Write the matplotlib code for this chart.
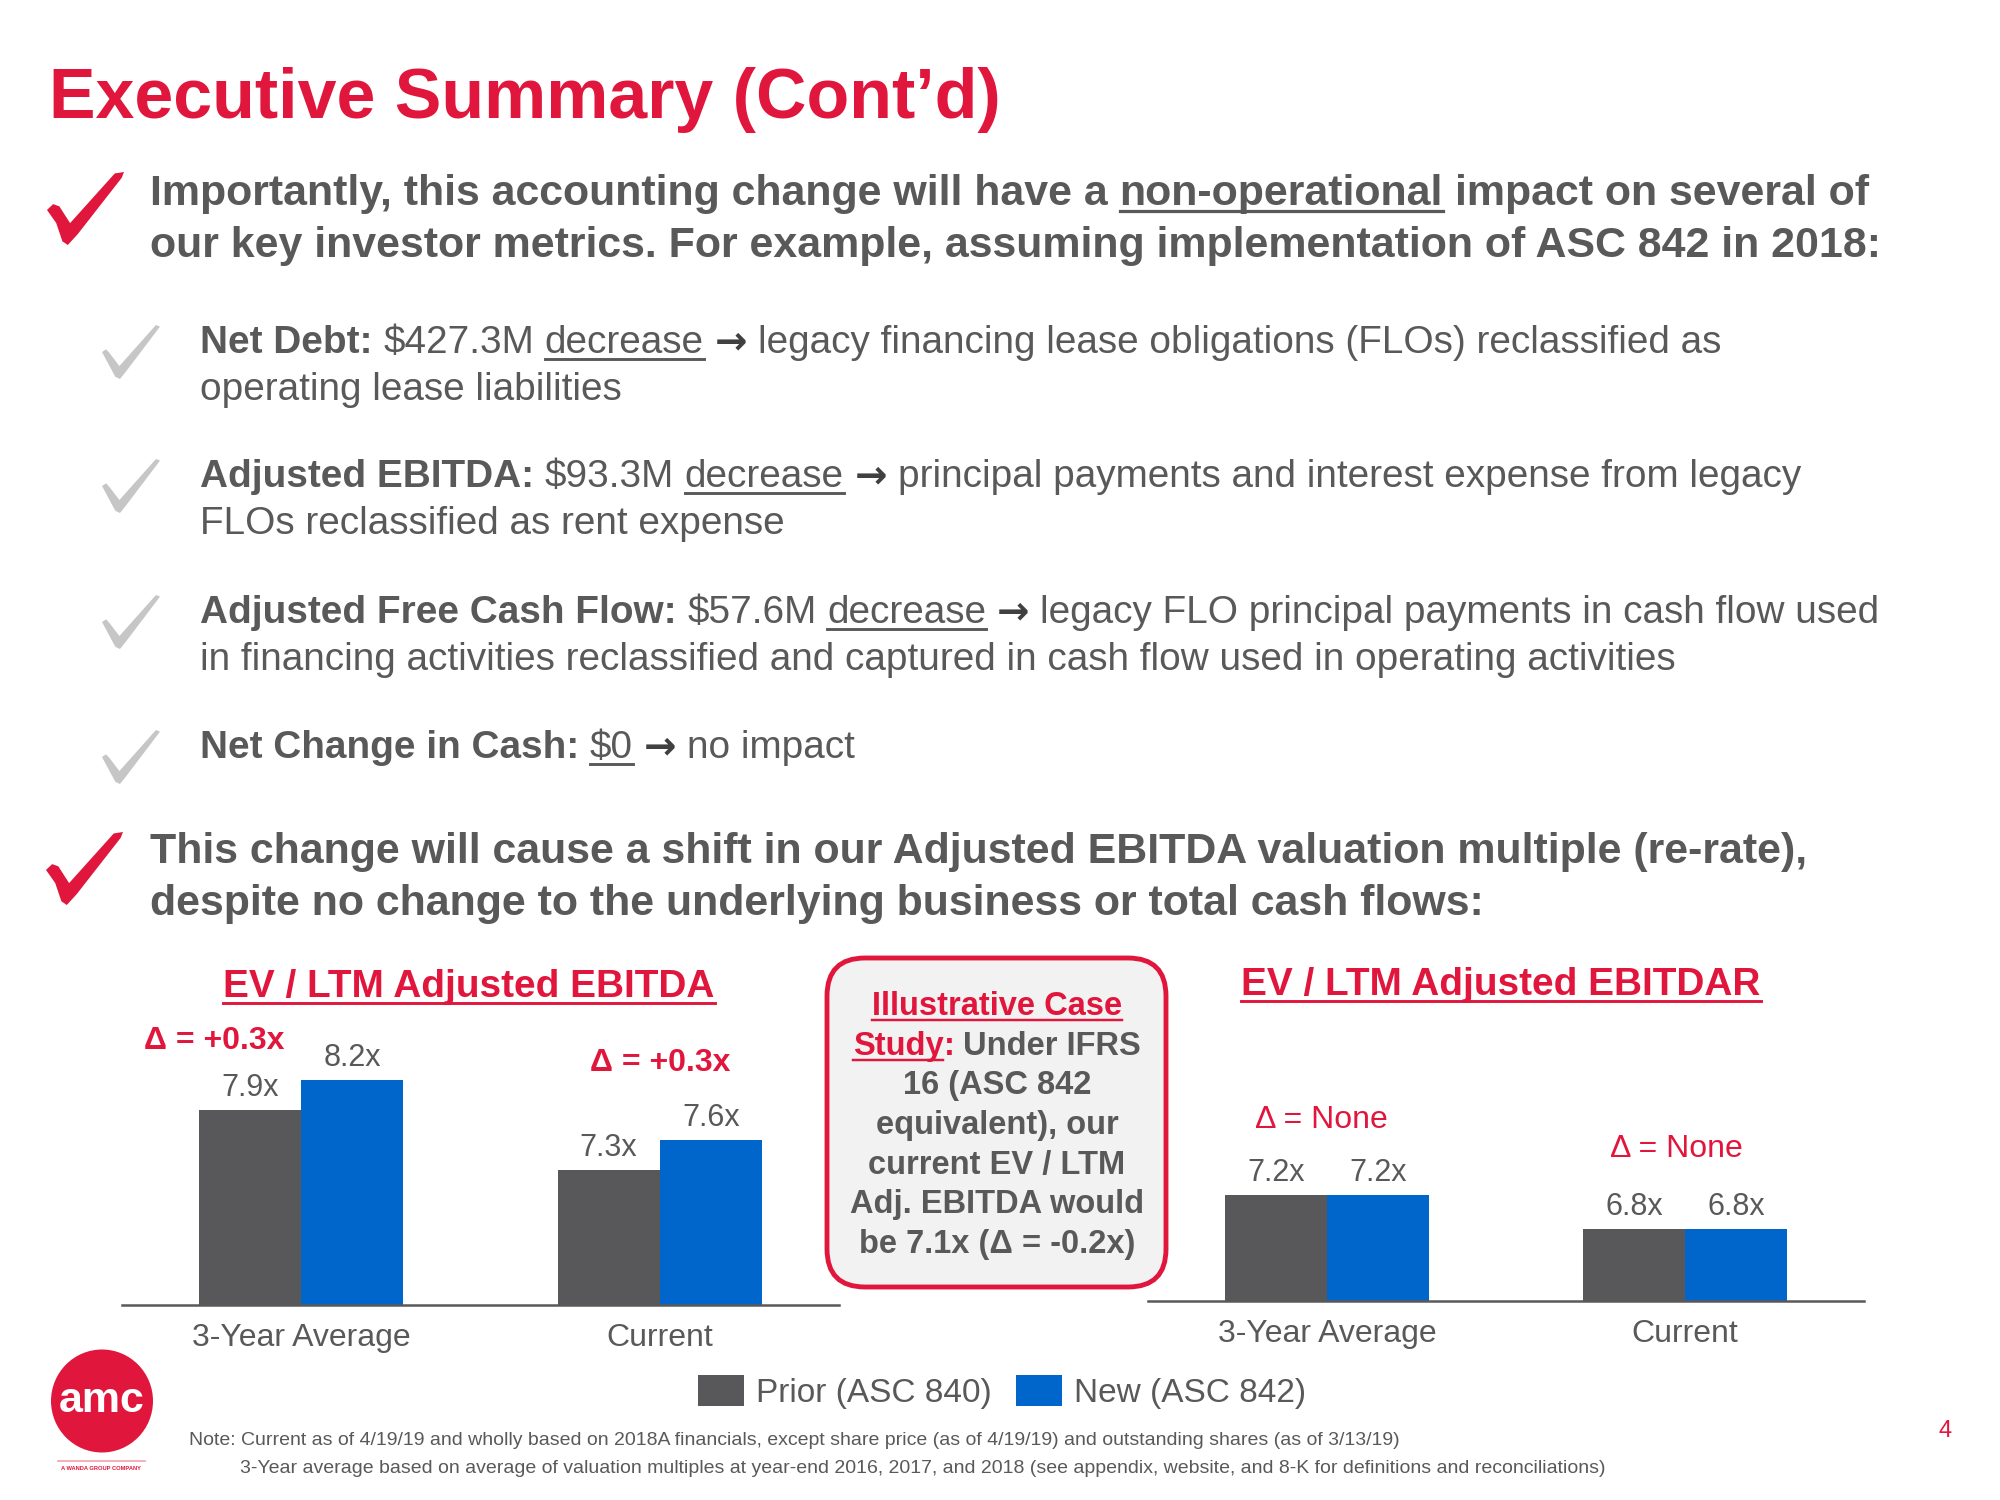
import matplotlib
matplotlib.use('Agg')
import matplotlib.pyplot as plt
import numpy as np
from matplotlib.patches import Polygon, FancyBboxPatch, Ellipse
from matplotlib.lines import Line2D
from matplotlib.transforms import IdentityTransform

W, H = 2000, 1500
RED = '#E1163C'
TXT = '#595959'
BAR_GRAY = '#58585A'
BAR_BLUE = '#0066CC'
LIGHT = '#C6C6C6'
BASE_FONT = ['Liberation Sans', 'DejaVu Sans']
plt.rcParams['font.family'] = BASE_FONT

# chart data
categories = ['3-Year Average', 'Current']
series = ['Prior (ASC 840)', 'New (ASC 842)']
ebitda_prior = [7.9, 7.3]
ebitda_new = [8.2, 7.6]
ebitda_delta = ['Δ = +0.3x', 'Δ = +0.3x']
ebitdar_prior = [7.2, 6.8]
ebitdar_new = [7.2, 6.8]
ebitdar_delta = ['Δ = None', 'Δ = None']

fig = plt.figure(figsize=(20, 15), dpi=100)
fig.patch.set_facecolor('white')
rend = fig.canvas.get_renderer()

_cache = {}


def text_w(s, size, bold=False, fam=None):
    fam = fam or BASE_FONT
    key = (s, size, bold, tuple(fam))
    if key not in _cache:
        wt = 'bold' if bold else 'normal'
        a = fig.text(0, 0, '|' + s + '|', fontsize=size, fontweight=wt, family=fam)
        b = fig.text(0, 0, '||', fontsize=size, fontweight=wt, family=fam)
        _cache[key] = a.get_window_extent(rend).width - b.get_window_extent(rend).width
        a.remove()
        b.remove()
    return _cache[key]


def P(s, bold=False, color=TXT, ul=False, fam=None):
    return (s, bold, color, ul, fam)


def line_width(parts, size):
    return sum(text_w(p[0], size, p[1], p[4]) for p in parts)


def fit(parts, target):
    return 20 * target / line_width(parts, 20)


def draw_line(x, y, parts, size, align='left'):
    # x, y in pixels from top-left, y = baseline
    if align == 'center':
        x -= line_width(parts, size) / 2
    px = size * 100 / 72
    for s, bold, color, ul, fam in parts:
        fam = fam or BASE_FONT
        w = text_w(s, size, bold, fam)
        core = s.strip(' ')
        lead = len(s) - len(s.lstrip(' '))
        x0 = x + lead * text_w(' ', size, bold, fam)
        if core:
            fig.text(x0 / W, 1 - y / H, core, fontsize=size, family=fam,
                     fontweight='bold' if bold else 'normal', color=color,
                     ha='left', va='baseline')
        if ul:
            cw = text_w(core, size, bold, fam)
            yy = 1 - (y + 0.15 * px) / H
            fig.add_artist(Line2D([x0 / W, (x0 + cw) / W], [yy, yy], color=color,
                                  lw=0.075 * px * 0.72))
        x += w


RED_CHECK = [(0.00, 0.52), (0.08, 0.44), (0.16, 0.47), (0.30, 0.70), (0.88, 0.02),
             (1.00, 0.00), (0.97, 0.08), (0.40, 0.85), (0.27, 1.00), (0.20, 0.95),
             (0.12, 0.70)]
GRAY_CHECK = [(0.00, 0.50), (0.07, 0.45), (0.13, 0.52), (0.30, 0.76), (0.93, 0.00),
              (1.00, 0.03), (0.40, 0.88), (0.31, 1.00), (0.23, 0.96)]


def check(x0, y0, w, h, shape, color):
    pts = [((x0 + u * w) / W, 1 - (y0 + v * h) / H) for u, v in shape]
    fig.add_artist(Polygon(pts, closed=True, fc=color, ec='none'))


# title
title = [P('Executive Summary (Cont’d)', True, RED)]
draw_line(49, 118, title, fit(title, 951))

# first main bullet
b1 = [P('Importantly, this accounting change will have a ', True),
      P('non-operational', True, ul=True), P(' impact on several of', True)]
b2 = [P('our key investor metrics. For example, assuming implementation of ASC 842 in 2018:', True)]
sb = fit(b1, 1721)
check(47, 172, 77, 73, RED_CHECK, RED)
draw_line(150, 205, b1, sb)
draw_line(150, 257, b2, sb)

# sub bullets
arrow = [P(' '), P('→', True, '#404040', fam=['DejaVu Sans']), P(' ')]
subs = [
    ([P('Net Debt:', True), P(' $427.3M '), P('decrease', ul=True)] + arrow +
     [P('legacy financing lease obligations (FLOs) reclassified as')],
     [P('operating lease liabilities')], 353),
    ([P('Adjusted EBITDA:', True), P(' $93.3M '), P('decrease', ul=True)] + arrow +
     [P('principal payments and interest expense from legacy')],
     [P('FLOs reclassified as rent expense')], 487),
    ([P('Adjusted Free Cash Flow:', True), P(' $57.6M '), P('decrease', ul=True)] + arrow +
     [P('legacy FLO principal payments in cash flow used')],
     [P('in financing activities reclassified and captured in cash flow used in operating activities')], 623),
    ([P('Net Change in Cash:', True), P(' '), P('$0', ul=True)] + arrow + [P('no impact')],
     None, 758),
]
ss = fit(subs[2][0], 1680)
for first, second, base in subs:
    check(102, base - 28, 58, 54, GRAY_CHECK, LIGHT)
    draw_line(200, base, first, ss)
    if second:
        draw_line(200, base + 47, second, ss)

# second main bullet
c1 = [P('This change will cause a shift in our Adjusted EBITDA valuation multiple (re-rate),', True)]
c2 = [P('despite no change to the underlying business or total cash flows:', True)]
sc = fit(c1, 1659)
check(46, 832, 77, 73, RED_CHECK, RED)
draw_line(150, 863, c1, sc)
draw_line(150, 915, c2, sc)


# charts
def make_chart(left, right, base, unit_px, prior, new, deltas, bold_delta, offsets):
    y0, y1 = 5.95, 8.6
    ax = fig.add_axes([left / W, (H - base) / H, (right - left) / W,
                       (y1 - y0) * unit_px / H])
    x = np.arange(len(categories))
    bw = 0.285
    bp = ax.bar(x - bw / 2, prior, bw, color=BAR_GRAY)
    bn = ax.bar(x + bw / 2, new, bw, color=BAR_BLUE)
    ax.set_xlim(-0.5, len(categories) - 0.5)
    ax.set_ylim(y0, y1)
    for s in ['top', 'left', 'right']:
        ax.spines[s].set_visible(False)
    ax.spines['bottom'].set_color(TXT)
    ax.spines['bottom'].set_linewidth(1.8)
    ax.set_yticks([])
    ax.set_xticks(x, categories)
    ax.tick_params(axis='x', length=0, pad=13, labelsize=23, labelcolor=TXT)
    ax.patch.set_alpha(0)
    for bars in (bp, bn):
        for r in bars:
            ax.annotate(f'{r.get_height():.1f}x',
                        (r.get_x() + r.get_width() / 2, r.get_height()),
                        xytext=(0, 10), textcoords='offset points',
                        ha='center', va='baseline', fontsize=22, color=TXT)
    for i, (d, off) in enumerate(zip(deltas, offsets)):
        ax.annotate(d, (x[i], max(prior[i], new[i])), xytext=off,
                    textcoords='offset points', ha='center', va='baseline',
                    fontsize=23, fontweight='bold' if bold_delta else 'normal',
                    color=RED)
    return bp, bn


bars_prior, bars_new = make_chart(122, 839, 1305, 100, ebitda_prior, ebitda_new,
                                  ebitda_delta, True, [(-63, 22), (0, 50)])
make_chart(1148, 1864, 1301, 85, ebitdar_prior, ebitdar_new,
           ebitdar_delta, False, [(-4, 48), (-6, 52)])

t1 = [P('EV / LTM Adjusted EBITDA', True, RED, True)]
draw_line(469, 997, t1, fit(t1, 491), 'center')
t2 = [P('EV / LTM Adjusted EBITDAR', True, RED, True)]
draw_line(1501, 995, t2, fit(t2, 518), 'center')

# case study box
box = FancyBboxPatch((827, H - 1287), 339, 329,
                     boxstyle='round,pad=0,rounding_size=38',
                     fc='#F2F2F2', ec=RED, lw=3.5, transform=IdentityTransform())
fig.add_artist(box)
box_lines = [
    [P('Illustrative Case', True, RED, True)],
    [P('Study', True, RED, True), P(':', True, RED), P(' Under IFRS', True)],
    [P('16 (ASC 842', True)],
    [P('equivalent), our', True)],
    [P('current EV / LTM', True)],
    [P('Adj. EBITDA would', True)],
    [P('be 7.1x (Δ = -0.2x)', True)],
]
for i, ln in enumerate(box_lines):
    draw_line(997, 1015 + i * 39.7, ln, 23.5, 'center')

# legend
fig.legend([bars_prior, bars_new], series, loc='center',
           bbox_to_anchor=(1002 / W, 1 - 1392 / H), ncol=2, frameon=False,
           fontsize=24, labelcolor=TXT, handlelength=1.38, handleheight=1.05,
           handletextpad=0.36, columnspacing=0.75, borderpad=0, borderaxespad=0)

# footnotes
n1 = [P('Note: Current as of 4/19/19 and wholly based on 2018A financials, except share price '
        '(as of 4/19/19) and outstanding shares (as of 3/13/19)')]
n2 = [P('3-Year average based on average of valuation multiples at year-end 2016, 2017, and 2018 '
        '(see appendix, website, and 8-K for definitions and reconciliations)')]
sn = fit(n1, 1205)
draw_line(189, 1445, n1, sn)
draw_line(240, 1473, n2, sn)

fig.text(1945 / W, 1 - 1437 / H, '4', ha='center', va='baseline', fontsize=17, color=RED)

# logo
fig.add_artist(Ellipse((102 / W, 1 - 1401 / H), 102 / W, 103 / H, fc=RED, ec='none'))
fig.text(102 / W, 1 - 1412 / H, 'amc', ha='center', va='baseline', fontsize=31,
         fontweight='bold', color='white')
fig.add_artist(Line2D([58 / W, 145 / W], [1 - 1461 / H] * 2, color='#F2A0B0', lw=1.2))
wanda = [P('A WANDA GROUP COMPANY', True, RED)]
draw_line(101, 1470, wanda, fit(wanda, 80), 'center')

fig.savefig('out.png', dpi=100)
